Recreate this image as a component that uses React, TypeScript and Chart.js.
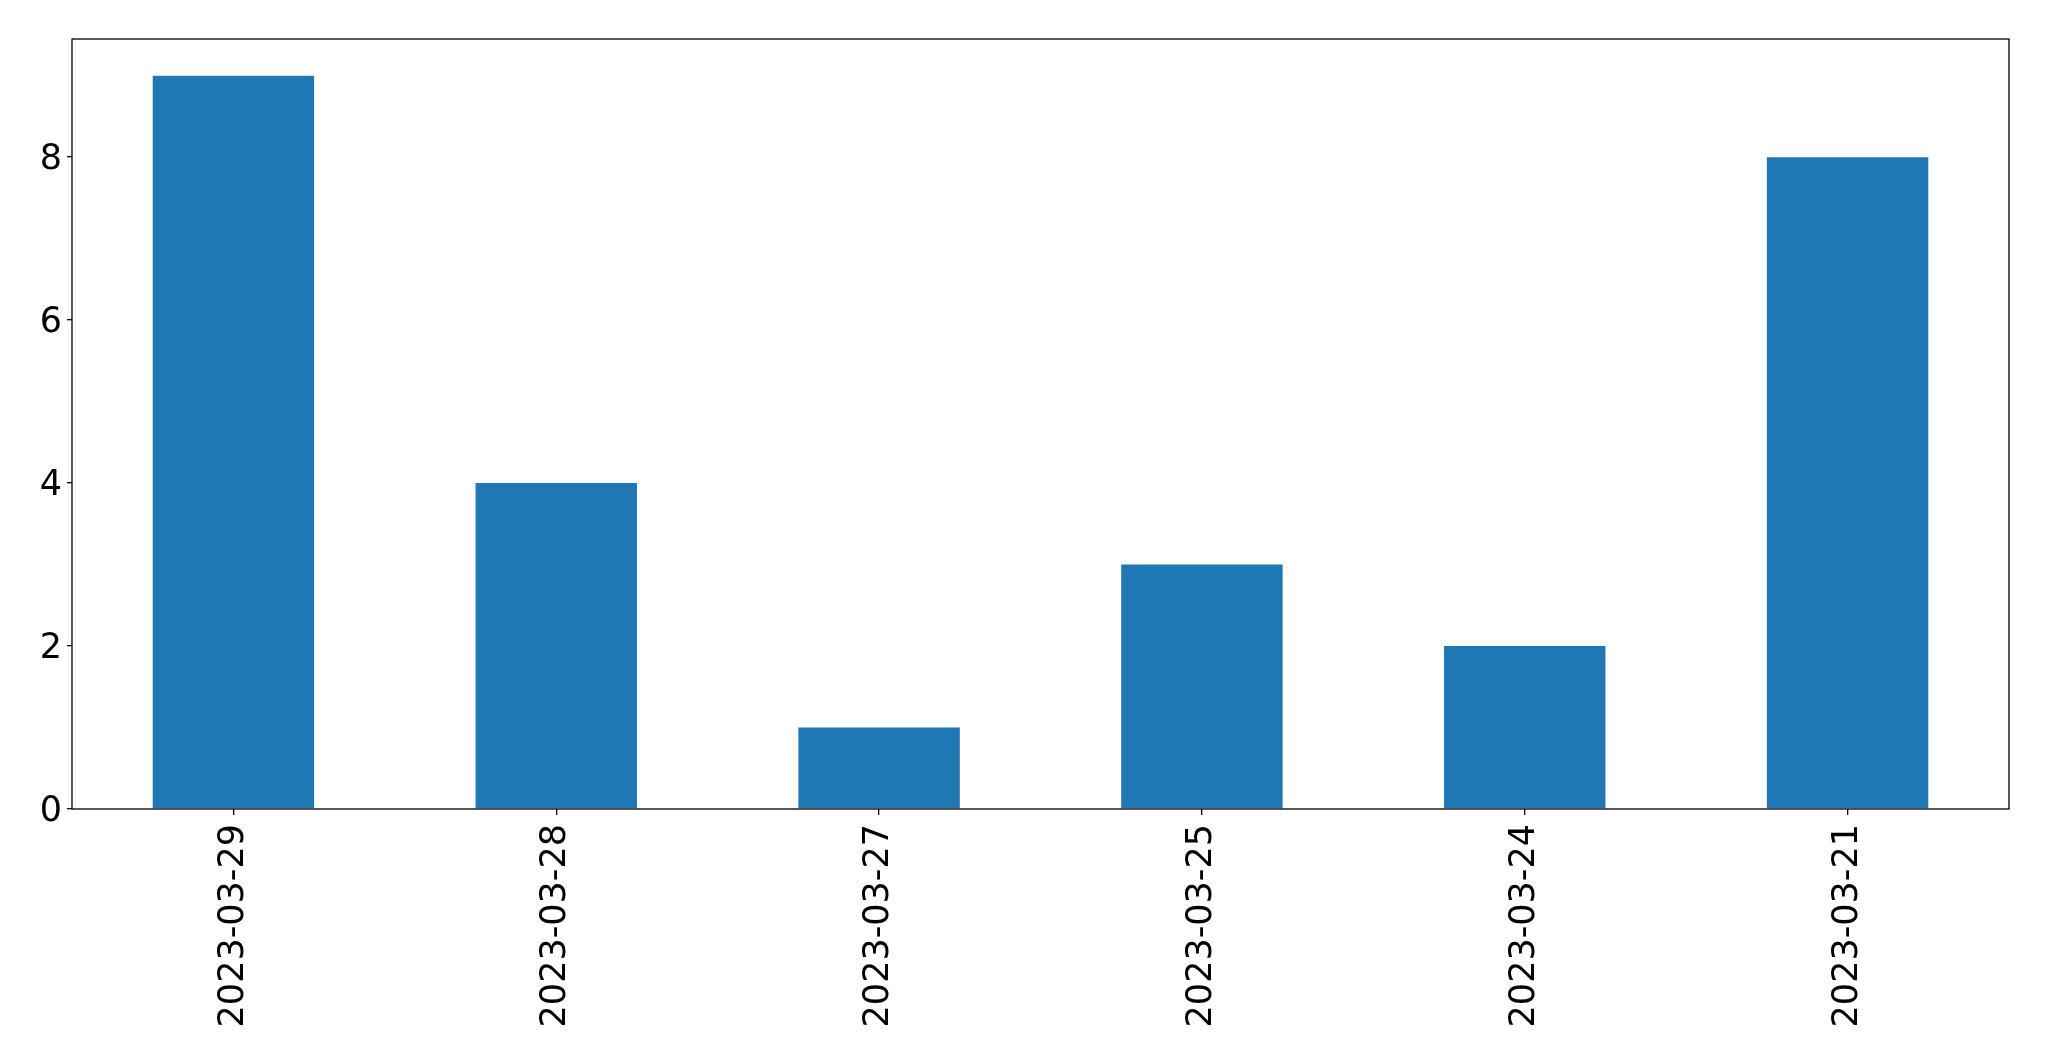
import React, { useEffect, useRef } from "react";
import { Chart, registerables } from "chart.js";

Chart.register(...registerables);

const categories = ["2023-03-29", "2023-03-28", "2023-03-27", "2023-03-25", "2023-03-24", "2023-03-21"];
const counts = [9, 4, 1, 3, 2, 8];
const yTicks = [0, 2, 4, 6, 8];
const yMax = 9.45;

const W = 2049;
const H = 1061;

const framePlugin = {
  id: "frame",
  afterDraw(chart: any) {
    const { ctx, chartArea } = chart;
    ctx.save();
    ctx.strokeStyle = "#000";
    ctx.lineWidth = 1.3;
    ctx.strokeRect(chartArea.left, chartArea.top, chartArea.right - chartArea.left, chartArea.bottom - chartArea.top);
    ctx.restore();
  },
};

export default function App() {
  const ref = useRef<HTMLCanvasElement | null>(null);
  useEffect(() => {
    if (!ref.current) return;
    const font = { family: "'DejaVu Sans'", size: 35 };
    const chart = new Chart(ref.current, {
      type: "bar",
      data: {
        labels: categories,
        datasets: [
          {
            data: counts,
            backgroundColor: "#1f77b4",
            borderWidth: 0,
            barPercentage: 0.5,
            categoryPercentage: 1.0,
          },
        ],
      },
      options: {
        animation: false,
        responsive: false,
        devicePixelRatio: 1,
        layout: { padding: { top: 39, right: 40, left: 0, bottom: 0 } },
        plugins: { legend: { display: false }, tooltip: { enabled: false } },
        scales: {
          x: {
            offset: true,
            grid: { display: true, drawOnChartArea: false, drawTicks: true, tickLength: 6, color: "#000", lineWidth: 1.3, offset: false },
            border: { display: false },
            ticks: { font, color: "#000", minRotation: 90, maxRotation: 90, padding: 9, autoSkip: false },
            afterFit: (s: any) => { s.height = H - 809; },
          },
          y: {
            min: 0,
            max: yMax,
            grid: { display: true, drawOnChartArea: false, drawTicks: true, tickLength: 5, color: "#000", lineWidth: 1.3 },
            border: { display: false },
            ticks: { font, color: "#000", padding: 5, labelOffset: 3 },
            afterBuildTicks: (s: any) => { s.ticks = yTicks.map((v) => ({ value: v })); },
            afterFit: (s: any) => { s.width = 72; },
          },
        },
      },
      plugins: [framePlugin],
    });
    return () => chart.destroy();
  }, []);
  return (
    <div style={{ position: "absolute", left: 0, top: 0, width: W, height: H, background: "#fff" }}>
      <canvas ref={ref} width={W} height={H} style={{ display: "block" }} />
    </div>
  );
}
